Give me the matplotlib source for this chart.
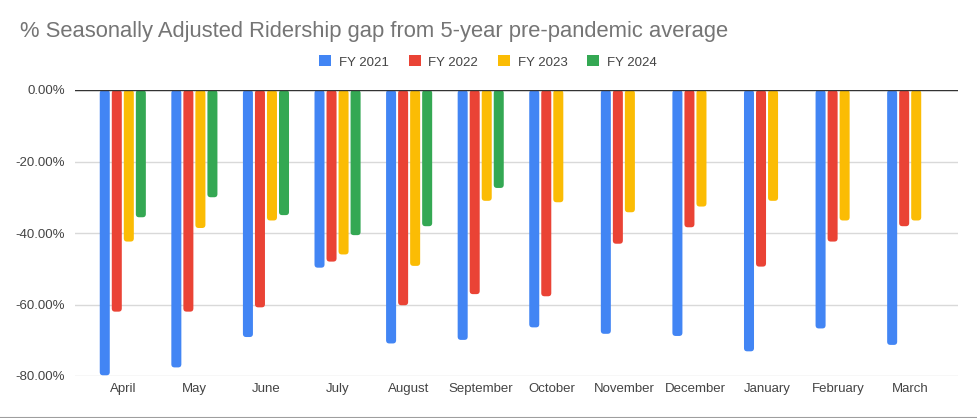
import numpy as np
import matplotlib
matplotlib.use("Agg")
from matplotlib import pyplot as plt
from matplotlib.patches import FancyBboxPatch, Patch
from matplotlib.lines import Line2D
from matplotlib.ticker import FuncFormatter, MultipleLocator

plt.rcParams['font.family'] = ['Liberation Sans', 'DejaVu Sans']

months = ['April', 'May', 'June', 'July', 'August', 'September', 'October',
          'November', 'December', 'January', 'February', 'March']
series = ['FY 2021', 'FY 2022', 'FY 2023', 'FY 2024']

fy2021 = [-79.8, -77.6, -69.1, -49.7, -70.9, -69.9, -66.4, -68.2, -68.8, -73.1, -66.7, -71.3]
fy2022 = [-62.0, -62.0, -60.8, -48.0, -60.2, -57.1, -57.7, -43.0, -38.4, -49.4, -42.4, -38.1]
fy2023 = [-42.4, -38.6, -36.5, -46.0, -49.2, -31.0, -31.4, -34.2, -32.6, -31.0, -36.5, -36.5]
fy2024 = [-35.6, -30.0, -35.0, -40.6, -38.1, -27.4]

colors = ['#4285F4', '#EA4335', '#FBBC04', '#34A853']

fig = plt.figure(figsize=(9.78, 4.18), dpi=100)
ax = fig.add_axes([75 / 978, 42 / 418, 883 / 978, 286 / 418])

x = np.arange(len(months))
slot = 0.168
width = 0.14
all_vals = [fy2021, fy2022, fy2023, fy2024]
for i, vals in enumerate(all_vals):
    xs = x[:len(vals)] + (i - 1.5) * slot
    bars = ax.bar(xs, vals, width=width, color=colors[i], zorder=3)
    # swap plain rectangles for slightly rounded ones
    for b in bars:
        bx, by = b.get_x(), b.get_y()
        bw, bh = b.get_width(), b.get_height()
        y0 = min(by, by + bh)
        r = FancyBboxPatch((bx, y0), bw, abs(bh),
                           boxstyle="round,pad=0,rounding_size=0.045",
                           mutation_aspect=20, facecolor=colors[i],
                           edgecolor='none', zorder=3)
        b.remove()
        ax.add_patch(r)

ax.set_xlim(-0.5 - 12 / 71.5, 11.5 + 12 / 71.5)
ax.set_ylim(-80, 0)
ax.yaxis.set_major_locator(MultipleLocator(20))
ax.yaxis.set_major_formatter(FuncFormatter(lambda v, p: '%.2f%%' % v))
ax.set_xticks(x)
ax.set_xticklabels(months)
ax.tick_params(axis='both', length=0, labelsize=9.5, colors='#444444')
ax.tick_params(axis='x', pad=5)
ax.tick_params(axis='y', pad=7)
ax.grid(axis='y', color='#d9d9d9', linewidth=1, zorder=0)
ax.axhline(0, color='#333333', linewidth=1, zorder=4)
for s in ax.spines.values():
    s.set_visible(False)

fig.text(20 / 978, 1 - 31 / 418, '% Seasonally Adjusted Ridership gap from 5-year pre-pandemic average',
         fontsize=15.8, color='#757575', va='center', ha='left')

handles = [Patch(facecolor=c, edgecolor='none') for c in colors]
fig.legend(handles, series, loc='center', bbox_to_anchor=(488 / 978, 1 - 62 / 418),
           ncol=4, frameon=False, fontsize=9.5, handlelength=0.9, handleheight=0.9,
           handletextpad=0.6, columnspacing=1.5, labelcolor='#444444')

fig.add_artist(Line2D([0, 1], [0.5 / 418, 0.5 / 418], color='#9e9e9e', linewidth=1.5))

plt.savefig("out.png", dpi=100)
